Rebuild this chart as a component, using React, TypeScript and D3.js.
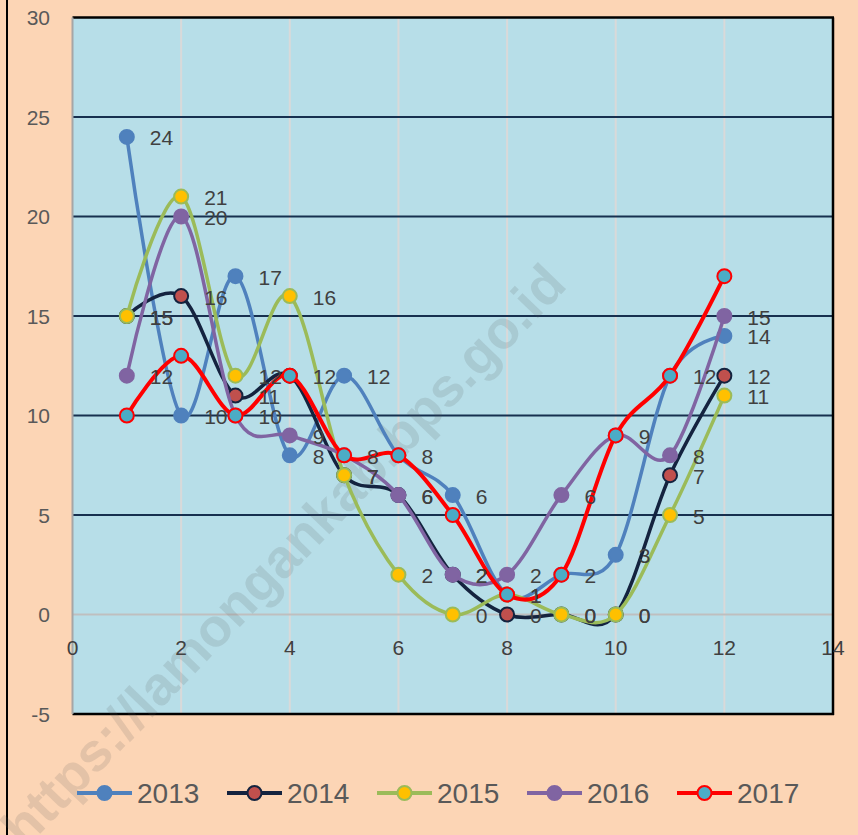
import React from "react";
import * as d3 from "d3";

const months = [1, 2, 3, 4, 5, 6, 7, 8, 9, 10, 11, 12];
const s2013 = [24, 10, 17, 8, 12, 8, 6, 1, 2, 3, 12, 14];
const s2014 = [15, 16, 11, 12, 7, 6, 2, 0, 0, 0, 7, 12];
const s2015 = [15, 21, 12, 16, 7, 2, 0, 1, 0, 0, 5, 11];
const s2016 = [12, 20, 10, 9, 8, 6, 2, 2, 6, 9, 8, 15];
const s2017 = [10, 13, 10, 12, 8, 8, 5, 1, 2, 9, 12, 17];
const yTicks = [-5, 0, 5, 10, 15, 20, 25, 30];
const xTicks = [0, 2, 4, 6, 8, 10, 12, 14];

const series = [
  { name: "2013", values: s2013, line: "#4F81BD", fill: "#4F81BD", stroke: "#4F81BD", lw: 3.5, labels: true },
  { name: "2014", values: s2014, line: "#14233F", fill: "#C0504D", stroke: "#14233F", lw: 3.5, labels: true },
  { name: "2015", values: s2015, line: "#9BBB59", fill: "#FFC000", stroke: "#9BBB59", lw: 3.5, labels: true },
  { name: "2016", values: s2016, line: "#8064A2", fill: "#8064A2", stroke: "#8064A2", lw: 3.5, labels: true },
  { name: "2017", values: s2017, line: "#FF0000", fill: "#4BACC6", stroke: "#FF0000", lw: 4, labels: false },
];

const W = 858;
const H = 835;
const L = 72.5, T = 17.5, R = 833, B = 714;
const FONT = "'Liberation Sans', Arial, sans-serif";

export default function App() {
  const x = d3.scaleLinear().domain([0, 14]).range([L, R]);
  const y = d3.scaleLinear().domain([-5, 30]).range([B, T]);
  const lineGen = d3
    .line<number>()
    .x((_, i) => x(months[i]))
    .y((d) => y(d))
    .curve(d3.curveCardinal.tension(0));

  return (
    <svg
      width={W}
      height={H}
      style={{ position: "absolute", left: 0, top: 0, display: "block" }}
      fontFamily={FONT}
    >
      <rect x={0} y={0} width={W} height={H} fill="#FCD5B5" />
      <line x1={7} x2={7} y1={0} y2={H} stroke="#000" strokeWidth={2} />
      <rect x={L} y={T} width={R - L} height={B - T} fill="#B7DEE8" />
      {/* vertical gridlines */}
      {xTicks.filter((t) => t > 0 && t < 14).map((t) => (
        <line key={"vx" + t} x1={x(t)} x2={x(t)} y1={T} y2={B} stroke="#D9D9D9" strokeWidth={2} />
      ))}
      {/* horizontal gridlines */}
      {yTicks.filter((t) => t > -5 && t < 30).map((t) => (
        <line
          key={"hy" + t}
          x1={L}
          x2={R}
          y1={y(t)}
          y2={y(t)}
          stroke={t === 0 ? "#BFBFBF" : "#17304F"}
          strokeWidth={2}
        />
      ))}
      {/* borders */}
      <line x1={L} x2={R + 1} y1={T} y2={T} stroke="#000" strokeWidth={2.5} />
      <line x1={R} x2={R} y1={T} y2={B + 1} stroke="#000" strokeWidth={2.5} />
      <line x1={L} x2={R + 1} y1={B} y2={B} stroke="#000" strokeWidth={2.5} />
      <line x1={L} x2={L} y1={T} y2={B} stroke="#A6A6A6" strokeWidth={2} />
      {/* y tick labels */}
      {yTicks.map((t) => (
        <text key={"yl" + t} x={50} y={y(t)} textAnchor="end" dominantBaseline="central" fontSize={21} fill="#595959">
          {t}
        </text>
      ))}
      {/* x tick labels */}
      {xTicks.map((t) => (
        <text key={"xl" + t} x={x(t)} y={y(0) + 33} textAnchor="middle" dominantBaseline="central" fontSize={21} fill="#404040">
          {t}
        </text>
      ))}
      {/* watermark */}
      <text
        x={283}
        y={555}
        transform="rotate(-46 283 555)"
        textAnchor="middle"
        dominantBaseline="central"
        fontSize={54}
        fontWeight="bold"
        fill="#5A5A5A"
        fillOpacity={0.15}
      >
        https://lamongankab.bps.go.id
      </text>
      {/* series */}
      {series.map((s) => (
        <g key={s.name}>
          <path d={lineGen(s.values) || ""} fill="none" stroke={s.line} strokeWidth={s.lw} strokeLinejoin="round" strokeLinecap="round" />
          {s.values.map((v, i) => (
            <circle key={i} cx={x(months[i])} cy={y(v)} r={7} fill={s.fill} stroke={s.stroke} strokeWidth={2} />
          ))}
        </g>
      ))}
      {/* data labels */}
      {series.filter((s) => s.labels).map((s) => (
        <g key={"lab" + s.name}>
          {s.values.map((v, i) => (
            <text key={i} x={x(months[i]) + 23} y={y(v) + 1} dominantBaseline="central" fontSize={21} fill="#404040">
              {v}
            </text>
          ))}
        </g>
      ))}
      {/* legend */}
      {series.map((s, i) => {
        const lx = 77 + i * 150;
        const ly = 793;
        return (
          <g key={"lg" + s.name}>
            <line x1={lx} x2={lx + 55} y1={ly} y2={ly} stroke={s.line} strokeWidth={4} />
            <circle cx={lx + 27.5} cy={ly} r={7} fill={s.fill} stroke={s.stroke} strokeWidth={2} />
            <text x={lx + 60} y={ly} dominantBaseline="central" fontSize={28} fill="#595959">
              {s.name}
            </text>
          </g>
        );
      })}
    </svg>
  );
}
